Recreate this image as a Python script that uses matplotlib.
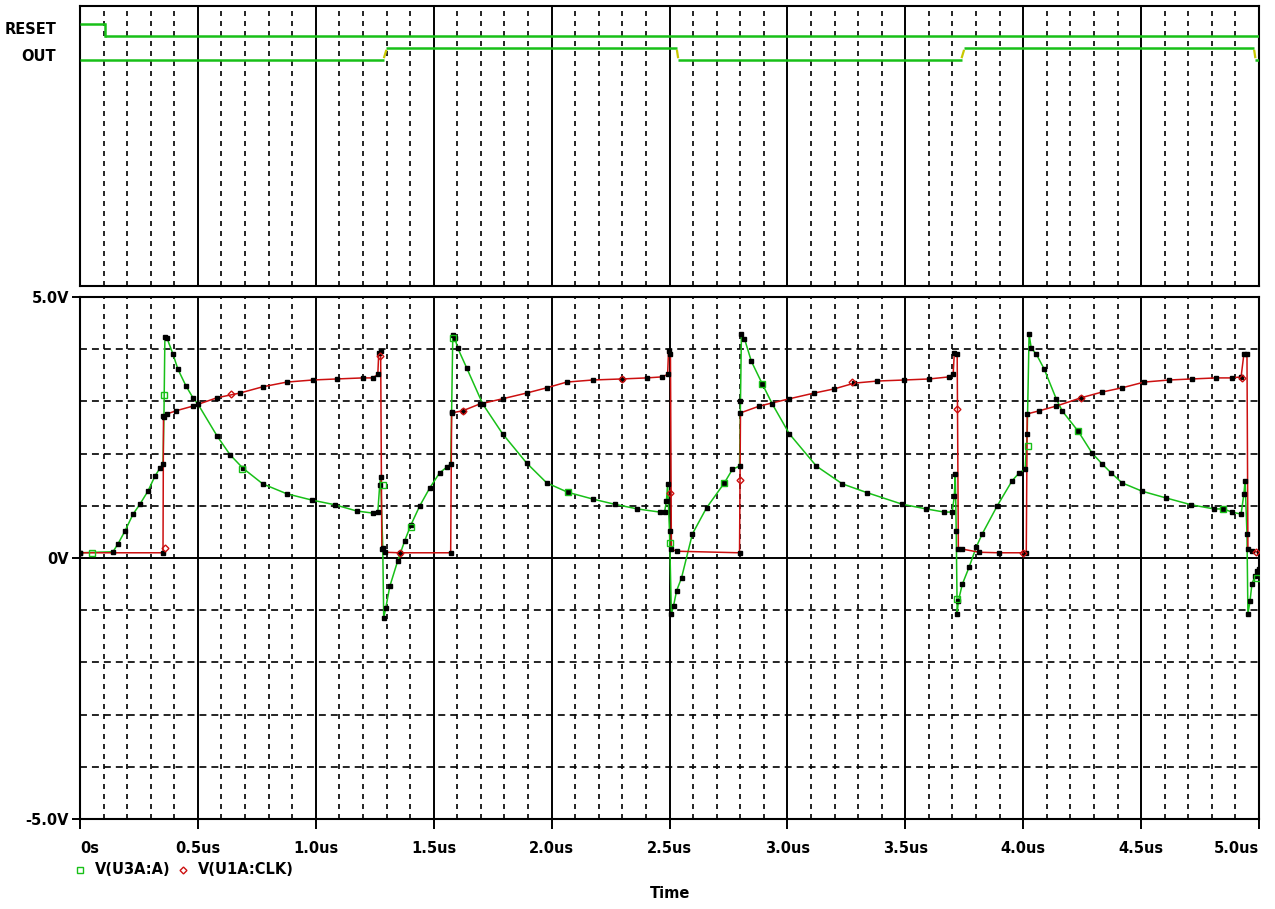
import matplotlib
matplotlib.use("Agg")
import matplotlib.pyplot as plt
import matplotlib.transforms as mtransforms
from matplotlib.lines import Line2D

plt.rcParams['font.family'] = 'DejaVu Sans'
plt.rcParams['font.weight'] = 'bold'
plt.rcParams['lines.scale_dashes'] = False

# Digital traces (time in us, logic level 0/1)
reset_t = [0.0, 0.106, 0.106, 5.0]
reset_v = [1, 1, 0, 0]
out_t = [0.0, 1.290, 1.298, 2.532, 2.536, 3.740, 3.748, 4.980, 4.984, 5.0]
out_v = [0, 0, 1, 1, 0, 0, 1, 1, 0, 0]
digital_names = ["RESET", "OUT"]

# V(U3A:A), green trace (time in us, volts)
a_t = [0.000, 0.140, 0.161, 0.191, 0.225, 0.254, 0.288, 0.318, 0.339, 0.352, 0.356, 0.360,
       0.369, 0.394, 0.415, 0.449, 0.479, 0.500, 0.581, 0.636, 0.691, 0.775, 0.877, 0.983,
       1.081, 1.174, 1.242, 1.263, 1.271, 1.275, 1.284, 1.288, 1.297, 1.314, 1.347, 1.377,
       1.403, 1.441, 1.483, 1.525, 1.555, 1.572, 1.576, 1.581,
       1.589, 1.602, 1.640, 1.708, 1.792, 1.894, 1.979, 2.068, 2.174, 2.267, 2.364, 2.458,
       2.479, 2.487, 2.492, 2.500, 2.508, 2.517, 2.530, 2.551, 2.597, 2.657, 2.733, 2.767,
       2.797, 2.801, 2.805,
       2.818, 2.847, 2.894, 2.936, 3.008, 3.123, 3.233, 3.339, 3.487, 3.589, 3.665, 3.699,
       3.708, 3.712, 3.716, 3.720, 3.725, 3.742, 3.771, 3.801, 3.826, 3.890, 3.953, 3.983,
       4.008, 4.017, 4.025,
       4.034, 4.055, 4.089, 4.140, 4.165, 4.233, 4.292, 4.335, 4.373, 4.419, 4.504, 4.606,
       4.712, 4.809, 4.847, 4.886, 4.924, 4.936, 4.941, 4.949, 4.953, 4.962, 4.970, 4.983,
       4.992, 5.000]
a_v = [0.10, 0.12, 0.27, 0.52, 0.84, 1.03, 1.28, 1.57, 1.72, 1.80, 2.70, 4.23,
       4.21, 3.91, 3.62, 3.30, 3.07, 2.95, 2.34, 1.98, 1.72, 1.42, 1.23, 1.11,
       1.02, 0.90, 0.86, 0.88, 1.40, 1.55, 0.20, -1.15, -0.95, -0.54, -0.06, 0.33,
       0.63, 1.00, 1.34, 1.63, 1.74, 1.80, 2.80, 4.27,
       4.22, 4.02, 3.64, 2.95, 2.38, 1.82, 1.44, 1.26, 1.13, 1.03, 0.94, 0.88,
       0.88, 1.09, 1.42, 0.52, -1.07, -0.92, -0.63, -0.38, 0.46, 0.96, 1.44, 1.70,
       1.76, 3.00, 4.29,
       4.20, 3.77, 3.33, 2.95, 2.38, 1.76, 1.42, 1.25, 1.03, 0.94, 0.88, 0.88,
       1.19, 1.61, 0.52, -1.07, -0.82, -0.50, -0.17, 0.21, 0.46, 1.00, 1.48, 1.63,
       1.70, 2.38, 4.29,
       4.02, 3.91, 3.62, 3.05, 2.82, 2.43, 2.01, 1.80, 1.63, 1.44, 1.28, 1.15,
       1.02, 0.94, 0.94, 0.88, 0.84, 1.23, 1.48, 0.46, -1.07, -0.82, -0.50, -0.34,
       -0.25, -0.22]

# V(U1A:CLK), red trace
clk_t = [0.000, 0.352, 0.354, 0.369, 0.407, 0.479, 0.581, 0.678, 0.775, 0.877, 0.987, 1.089,
         1.199, 1.242, 1.263, 1.267, 1.275, 1.280, 1.292, 1.356, 1.572,
         1.576, 1.623, 1.695, 1.792, 1.894, 1.979, 2.064, 2.174, 2.297, 2.403, 2.470, 2.492,
         2.496, 2.504, 2.508, 2.530, 2.797,
         2.801, 2.881, 3.008, 3.114, 3.199, 3.284, 3.381, 3.496, 3.602, 3.686, 3.703, 3.708,
         3.720, 3.725, 3.742, 3.814, 3.898, 4.013,
         4.017, 4.068, 4.140, 4.246, 4.335, 4.419, 4.513, 4.619, 4.716, 4.818, 4.886, 4.924,
         4.936, 4.949, 4.953, 4.970, 5.000]
clk_v = [0.10, 0.10, 2.72, 2.76, 2.82, 2.91, 3.07, 3.16, 3.28, 3.37, 3.41, 3.43,
         3.45, 3.45, 3.52, 3.93, 3.97, 0.17, 0.11, 0.10, 0.10,
         2.78, 2.82, 2.95, 3.05, 3.16, 3.26, 3.37, 3.41, 3.43, 3.45, 3.47, 3.52,
         3.97, 3.91, 0.17, 0.13, 0.10,
         2.78, 2.91, 3.05, 3.16, 3.24, 3.35, 3.39, 3.41, 3.43, 3.47, 3.52, 3.93,
         3.91, 0.17, 0.17, 0.11, 0.10, 0.10,
         2.76, 2.82, 2.91, 3.07, 3.18, 3.26, 3.37, 3.41, 3.43, 3.45, 3.45, 3.47,
         3.91, 3.91, 0.17, 0.13, 0.11]

# trace symbols drawn along the curves
a_sym_t = [0.05, 0.356, 0.686, 1.284, 1.403, 1.581, 2.068, 2.500, 2.733, 2.894,
           3.720, 4.021, 4.233, 4.847, 4.992]
a_sym_v = [0.10, 3.13, 1.70, 1.40, 0.60, 4.21, 1.26, 0.29, 1.44, 3.33,
           -0.78, 2.15, 2.43, 0.94, -0.38]
clk_sym_t = [0.360, 0.640, 1.271, 1.356, 1.623, 2.297, 2.500, 2.797, 3.275,
             3.720, 4.000, 4.246, 4.928, 4.987]
clk_sym_v = [0.19, 3.14, 3.87, 0.10, 2.82, 3.43, 1.25, 1.49, 3.37,
             2.85, 0.10, 3.07, 3.45, 0.11]

x_major = [0.0, 0.5, 1.0, 1.5, 2.0, 2.5, 3.0, 3.5, 4.0, 4.5, 5.0]
x_labels = ["0s", "0.5us", "1.0us", "1.5us", "2.0us", "2.5us", "3.0us", "3.5us",
            "4.0us", "4.5us", "5.0us"]
x_minor = [i / 10 for i in range(51) if i % 5 != 0]
y_major = [-5, 0, 5]
y_labels = ["-5.0V", "0V", "5.0V"]
y_minor = [-4, -3, -2, -1, 1, 2, 3, 4]

GREEN = '#18c018'
RED = '#cc1010'
YELLOW = '#c8c800'

W, H = 1275, 909
fig = plt.figure(figsize=(W / 100, H / 100), dpi=100)
left, right = 80, 1259
ax_top = fig.add_axes([left / W, 1 - 286 / H, (right - left) / W, 280 / H])
ax = fig.add_axes([left / W, 1 - 819 / H, (right - left) / W, 522 / H])

minor_dash = (0, (3.6, 3.6))
hdash = (0, (5.0, 3.6))

for a in (ax_top, ax):
    a.set_xlim(0, 5.0)
    for s in a.spines.values():
        s.set_linewidth(1.5)
    for x in x_major[1:-1]:
        a.axvline(x, color='black', lw=1.4, zorder=1)
    for x in x_minor:
        a.axvline(x, color='black', lw=1.2, ls=minor_dash, zorder=1)

# ---- digital section
ax_top.set_ylim(-280 / 24, 0)
ax_top.set_xticks([])
ax_top.set_yticks([])

for row, (tt, vv) in enumerate([(reset_t, reset_v), (out_t, out_v)]):
    ys = [-(row + 1.25) + 0.5 * v for v in vv]
    # plateaus in green, transitions between different levels
    for i in range(len(tt) - 1):
        if vv[i] == vv[i + 1]:
            ax_top.plot([tt[i], tt[i + 1]], [ys[i], ys[i + 1]], color=GREEN, lw=1.8,
                        solid_capstyle='butt', zorder=3)
        elif row == 0:
            ax_top.plot([tt[i], tt[i + 1]], [ys[i], ys[i + 1]], color=GREEN, lw=1.8, zorder=3)
        else:
            lo, hi = min(ys[i], ys[i + 1]), max(ys[i], ys[i + 1])
            ax_top.plot([tt[i], tt[i + 1]], [lo + 0.12, hi - 0.12] if ys[i] < ys[i + 1]
                        else [hi - 0.12, lo + 0.12], color=YELLOW, lw=1.6, zorder=3)

lab_tr = mtransforms.blended_transform_factory(fig.transFigure, ax_top.transData)
ax_top.text(56 / W, -1.0, digital_names[0], transform=lab_tr, ha='right', va='center',
            fontsize=10.5, fontweight='bold')
ax_top.text(56 / W, -2.12, digital_names[1], transform=lab_tr, ha='right', va='center',
            fontsize=10.5, fontweight='bold')

# ---- analog section
ax.set_ylim(-5, 5)
ax.axhline(0, color='black', lw=1.4, zorder=1)
for y in y_minor:
    ax.axhline(y, color='black', lw=1.2, ls=hdash, zorder=1)

ax.plot(a_t, a_v, color=GREEN, lw=1.1, zorder=3)
ax.plot(clk_t, clk_v, color=RED, lw=1.1, zorder=3)
ax.plot(a_t, a_v, ls='none', marker='s', ms=2.8, color='black', zorder=4)
ax.plot(clk_t, clk_v, ls='none', marker='s', ms=2.8, color='black', zorder=4)
ax.plot(a_sym_t, a_sym_v, ls='none', marker='s', ms=5, mfc='none', mec=GREEN, mew=1.0, zorder=5)
ax.plot(clk_sym_t, clk_sym_v, ls='none', marker='D', ms=3.5, mfc='none', mec=RED, mew=1.0, zorder=5)

ax.set_xticks(x_major)
ax.set_xticklabels(x_labels, fontsize=10.5, fontweight='bold')
tl = ax.get_xticklabels()
tl[0].set_ha('left')
tl[-1].set_ha('right')
ax.set_yticks(y_major)
ax.set_yticklabels(y_labels, fontsize=10.5, fontweight='bold')
ax.tick_params(axis='x', direction='out', length=7, width=1.4, pad=9)
ax.tick_params(axis='y', direction='out', length=6, width=1.4, pad=2)

# legend row and axis title
ly = 1 - 870 / H
fig.add_artist(Line2D([80 / W], [ly], marker='s', ms=5, mfc='none', mec=GREEN, mew=1.0, ls='none'))
fig.text(95 / W, ly, "V(U3A:A)", ha='left', va='center', fontsize=10.5, fontweight='bold')
fig.add_artist(Line2D([183 / W], [ly], marker='D', ms=3.5, mfc='none', mec=RED, mew=1.0, ls='none'))
fig.text(198 / W, ly, "V(U1A:CLK)", ha='left', va='center', fontsize=10.5, fontweight='bold')
fig.text(670 / W, 1 - 893 / H, "Time", ha='center', va='center', fontsize=10.5, fontweight='bold')

fig.savefig("out.png", dpi=100)
